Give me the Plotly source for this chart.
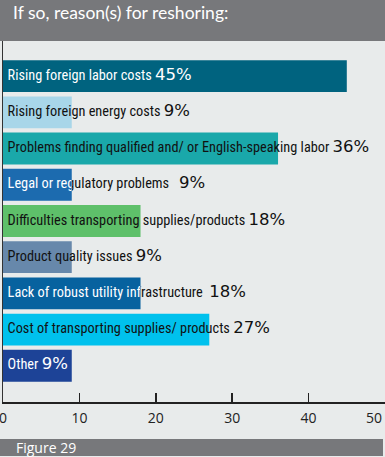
import plotly.graph_objects as go

# ---- data ----
categories = [
    "Rising foreign labor costs",
    "Rising foreign energy costs",
    "Problems finding qualified and/ or English-speaking labor",
    "Legal or regulatory problems",
    "Difficulties transporting supplies/products",
    "Product quality issues",
    "Lack of robust utility infrastructure",
    "Cost of transporting supplies/ products",
    "Other",
]
values = [45, 9, 36, 9, 18, 9, 18, 27, 9]
tick_values = [0, 10, 20, 30, 40, 50]
tick_labels = ["0", "10", "20", "30", "40", "50"]
title_text = "If so, reason(s) for reshoring:"
footer_text = "Figure 29"

# ---- style ----
bar_colors = ["#00637f", "#a8d6e9", "#1aa8aa", "#1c6baf", "#5ec06a",
              "#6788ab", "#07629f", "#00c1ed", "#1d4397"]
# text color per row: 'w' white, 'k' black, 's' split at bar end
text_mode = ["w", "k", "k", "s", "k", "k", "s", "k", "w"]
gaps = [" ", " ", " ", " \u00a0\u00a0", " ", " ", " \u00a0", " ", " "]

W, H = 385, 457
L, R, T, B = 3, 0, 41, 55
PW, PH = W - L - R, H - T - B
XMAX = 50
NAME_FONT = "Liberation Sans Narrow, Roboto Condensed, DejaVu Sans Condensed, sans-serif"
PCT_STYLE = "font-family:DejaVu Sans;font-size:16.5px"
TICK_FONT = dict(family="Open Sans, sans-serif", size=14, color="#222")
TX = 0.6

# last tick label is drawn right-aligned at its tick so it stays on the page
tick_text = tick_labels[:-1] + [""]


def label(i):
    return (f"{categories[i]}{gaps[i]}"
            f"<span style=\"{PCT_STYLE}\">{values[i]}%</span>")


fig = go.Figure()
fig.add_trace(go.Bar(
    x=values, y=categories, orientation="h",
    marker=dict(color=bar_colors, line=dict(width=0)),
    width=0.88, hoverinfo="skip",
))


def text_trace(rows, color, xaxis="x"):
    fig.add_trace(go.Scatter(
        x=[TX] * len(rows), y=[categories[i] for i in rows],
        text=[label(i) for i in rows], mode="text",
        textposition="middle right",
        textfont=dict(family=NAME_FONT, size=14.3, color=color),
        xaxis=xaxis, yaxis="y", hoverinfo="skip", showlegend=False,
        cliponaxis=True,
    ))


text_trace([i for i, m in enumerate(text_mode) if m == "k"], "#111111")
text_trace([i for i, m in enumerate(text_mode) if m == "w"], "#ffffff")

extra_axes = {}
ax_n = 2
for i, m in enumerate(text_mode):
    if m != "s":
        continue
    f = values[i] / XMAX
    extra_axes[f"xaxis{ax_n}"] = dict(domain=[0, f], range=[0, values[i]],
                                      anchor="y", visible=False, fixedrange=True,
                                      automargin=False)
    text_trace([i], "#ffffff", xaxis=f"x{ax_n}")
    ax_n += 1
    extra_axes[f"xaxis{ax_n}"] = dict(domain=[f, 1], range=[values[i], XMAX],
                                      anchor="y", visible=False, fixedrange=True,
                                      automargin=False)
    text_trace([i], "#111111", xaxis=f"x{ax_n}")
    ax_n += 1

bg = "#e8ebeb"
band = "#77787b"


def px_x(p):
    return (p - L) / PW


def px_y(p):
    return (H - B - p) / PH


fig.update_layout(
    width=W, height=H,
    margin=dict(l=L, r=R, t=T, b=B, pad=0, autoexpand=False),
    paper_bgcolor=bg, plot_bgcolor="rgba(0,0,0,0)",
    showlegend=False, bargap=0.1,
    xaxis=dict(domain=[0, 1], range=[0, XMAX], tickvals=tick_values,
               ticktext=tick_text,
               ticks="inside", ticklen=9, tickwidth=1.5, tickcolor="#222",
               showline=True, linecolor="#222", linewidth=1.5,
               showgrid=False, zeroline=False, fixedrange=True,
               automargin=False, tickfont=TICK_FONT,
               ticklabelstandoff=3, ticklabeloverflow="allow"),
    yaxis=dict(range=[9.0, -0.97], categoryorder="array", categoryarray=categories,
               showticklabels=False, ticks="", showgrid=False, zeroline=False,
               showline=True, linecolor="#333", linewidth=1.5, fixedrange=True,
               automargin=False),
    shapes=[
        dict(type="rect", xref="paper", yref="paper", layer="above",
             x0=px_x(0), x1=px_x(W), y0=px_y(T), y1=px_y(0),
             fillcolor=band, line=dict(width=0)),
        dict(type="rect", xref="paper", yref="paper", layer="above",
             x0=px_x(0), x1=px_x(383), y0=px_y(456), y1=px_y(439),
             fillcolor=band, line=dict(width=0)),
    ],
    annotations=[
        dict(text=title_text, xref="paper", yref="paper", x=px_x(11), y=px_y(12),
             xanchor="left", yanchor="middle", showarrow=False,
             font=dict(family="Lato, sans-serif", size=17.5, color="#ffffff")),
        dict(text=footer_text, xref="paper", yref="paper", x=px_x(14), y=px_y(447.5),
             xanchor="left", yanchor="middle", showarrow=False,
             font=dict(family="Open Sans, sans-serif", size=14, color="#ffffff")),
        dict(text=tick_labels[-1], xref="x", yref="paper", x=tick_values[-1],
             y=px_y(417), xanchor="right", yanchor="middle", xshift=-1,
             showarrow=False, font=TICK_FONT),
    ],
    **extra_axes,
)

fig.write_html("out.html",
               config={"displayModeBar": False, "staticPlot": True},
               post_script="document.body.style.margin='0px';"
                           "document.body.style.overflow='hidden';")
